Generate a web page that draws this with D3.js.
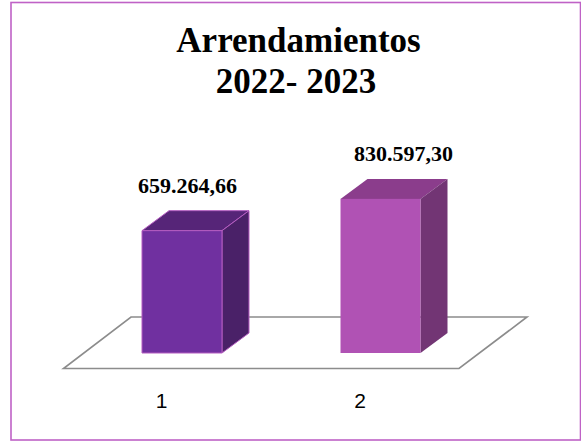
<!DOCTYPE html>
<html><head><meta charset="utf-8">
<script src="https://cdn.jsdelivr.net/npm/d3@7/dist/d3.min.js"></script>
<style>html,body{margin:0;padding:0;background:#fff}svg{display:block}</style>
</head><body><svg id="c" width="581" height="441"></svg>
<script>
const titleLines = ["Arrendamientos", "2022- 2023"];
const categories = ["1", "2"];
const values = [659264.66, 830597.30];
const valueLabels = ["659.264,66", "830.597,30"];
const frontColors = ["#7030a0", "#b052b4"];
const topColors = ["#562578", "#8b3d8c"];
const sideColors = ["#4a2168", "#723574"];
const edgeColors = ["#b45cc0", "none"];

const svg = d3.select("#c");
const depthX = 27, depthY = 20;
const x = d3.scaleBand().domain(categories).range([142, 420.5]).paddingInner(0.597).paddingOuter(0);
const y = d3.scaleLinear().domain([0, 900000]).range([353, 186]);
const path = d3.line();

svg.append("rect").attr("x", 11).attr("y", 2.5).attr("width", 569.5).attr("height", 437.5)
  .attr("fill", "#fff").attr("stroke", "#bf62c6").attr("stroke-width", 1.6);

// Floor
svg.append("path").attr("d", path([[63.5,368.5],[459,368.5],[527,317],[131,317]]) + "Z")
  .attr("fill", "#fff").attr("stroke", "#8c8c8c").attr("stroke-width", 1.6);

const bars = svg.selectAll("g.bar").data(categories).join("g").attr("class", "bar");
bars.each(function(c, i) {
  const g = d3.select(this);
  const x0 = x(c), x1 = x0 + x.bandwidth(), yt = y(values[i]), yb = y(0);
  const st = (s) => s.attr("stroke", edgeColors[i]).attr("stroke-width", 1).attr("stroke-linejoin", "round");
  st(g.append("path").attr("d", path([[x0,yt],[x1,yt],[x1+depthX,yt-depthY],[x0+depthX,yt-depthY]]) + "Z").attr("fill", topColors[i]));
  st(g.append("path").attr("d", path([[x1,yt],[x1+depthX,yt-depthY],[x1+depthX,yb-depthY],[x1,yb]]) + "Z").attr("fill", sideColors[i]));
  st(g.append("rect").attr("x", x0).attr("y", yt).attr("width", x.bandwidth()).attr("height", yb-yt).attr("fill", frontColors[i]));
  svg.append("text").attr("x", (x0+x1)/2 + (i ? 23 : 5.5)).attr("y", yt - depthY - 18)
    .attr("text-anchor", "middle").attr("font-family", "Liberation Serif").attr("font-weight", "bold")
    .attr("font-size", 22).attr("fill", "#000").text(valueLabels[i]);
  svg.append("text").attr("x", (x0+x1)/2 - 20.5).attr("y", 408)
    .attr("text-anchor", "middle").attr("font-family", "Liberation Sans")
    .attr("font-size", 21).attr("fill", "#000").text(c);
});

svg.selectAll("text.title").data(titleLines).join("text").attr("class", "title")
  .attr("x", (d, i) => i ? 296 : 298.5).attr("y", (d, i) => 52 + i * 41)
  .attr("text-anchor", "middle").attr("font-family", "Liberation Serif").attr("font-weight", "bold")
  .attr("font-size", 35).attr("fill", "#000").text(d => d);
</script></body></html>
